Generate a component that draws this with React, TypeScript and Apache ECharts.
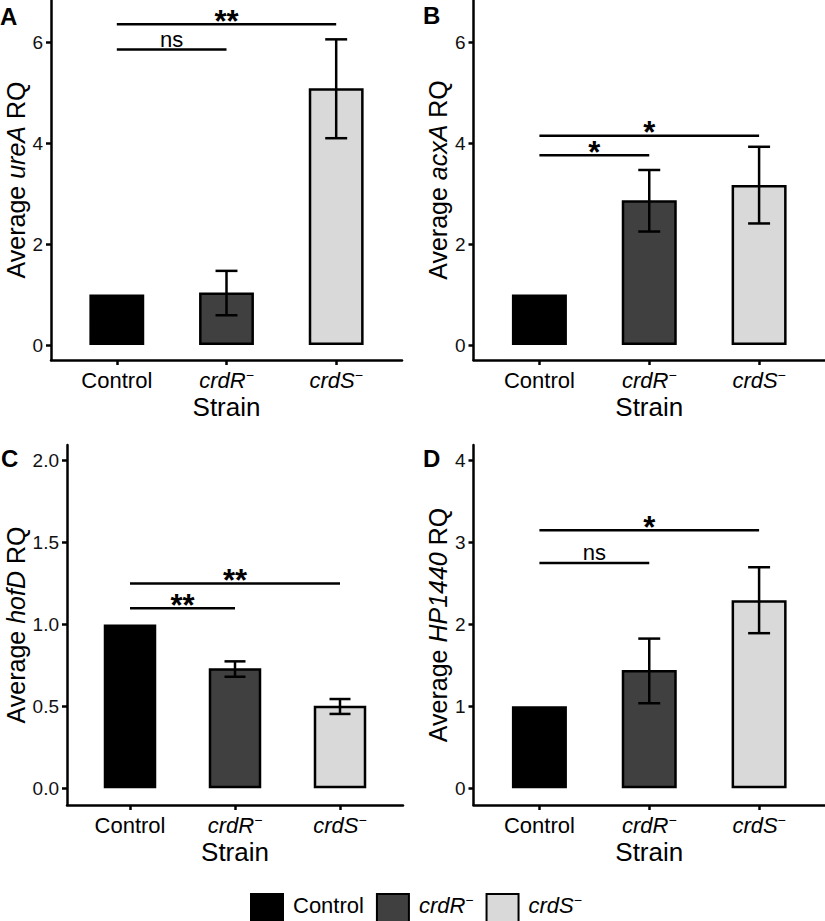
import React, { useEffect, useRef } from "react";
import * as echarts from "echarts";

// ---------- data ----------
const strains = ["Control", "crdR", "crdS"];
const strainPositions = [1, 2, 3];

const ureAMean = [1.0, 1.04, 5.09];
const ureALow = [null, 0.59, 4.1];
const ureAHigh = [null, 1.47, 6.06];
const ureASig = [[1, 2, 5.86], [1, 3, 6.36]];
const ureASigLabels = ["ns", "**"];
const ureATicks = [0, 2, 4, 6];

const acxAMean = [1.0, 2.87, 3.17];
const acxALow = [null, 2.25, 2.41];
const acxAHigh = [null, 3.47, 3.93];
const acxASig = [[1, 2, 3.76], [1, 3, 4.15]];
const acxASigLabels = ["*", "*"];
const acxATicks = [0, 2, 4, 6];

const hofDMean = [1.0, 0.733, 0.504];
const hofDLow = [null, 0.681, 0.454];
const hofDHigh = [null, 0.775, 0.545];
const hofDSig = [[1, 2, 1.1], [1, 3, 1.25]];
const hofDSigLabels = ["**", "**"];
const hofDTicks = [0, 0.5, 1.0, 1.5, 2.0];

const hp1440Mean = [1.0, 1.444, 2.296];
const hp1440Low = [null, 1.038, 1.893];
const hp1440High = [null, 1.827, 2.698];
const hp1440Sig = [[1, 2, 2.75], [1, 3, 3.15]];
const hp1440SigLabels = ["ns", "*"];
const hp1440Ticks = [0, 1, 2, 3, 4];

// ---------- style / layout ----------
const FONT = "'Liberation Sans', Arial, Helvetica, sans-serif";
const fills = ["#000000", "#404040", "#d9d9d9"];
const LW = 2.5;

const panels = [
  { letter: "A", gene: "ureA", mean: ureAMean, low: ureALow, high: ureAHigh, sig: ureASig, sigLabels: ureASigLabels, ticks: ureATicks, digits: 0,
    yMin: -0.297, yMax: 6.84, left: 51, top: 0, width: 351, height: 360, nameGap: 23, lx: 0, ly: 4 },
  { letter: "B", gene: "acxA", mean: acxAMean, low: acxALow, high: acxAHigh, sig: acxASig, sigLabels: acxASigLabels, ticks: acxATicks, digits: 0,
    yMin: -0.297, yMax: 6.84, left: 473.5, top: 0, width: 352, height: 360, nameGap: 23, lx: 423, ly: 3 },
  { letter: "C", gene: "hofD", mean: hofDMean, low: hofDLow, high: hofDHigh, sig: hofDSig, sigLabels: hofDSigLabels, ticks: hofDTicks, digits: 1,
    yMin: -0.102, yMax: 2.096, left: 67, top: 445, width: 336, height: 360, nameGap: 39, lx: 1, ly: 446 },
  { letter: "D", gene: "HP1440", mean: hp1440Mean, low: hp1440Low, high: hp1440High, sig: hp1440Sig, sigLabels: hp1440SigLabels, ticks: hp1440Ticks, digits: 0,
    yMin: -0.204, yMax: 4.19, left: 473.5, top: 445, width: 352, height: 360, nameGap: 23, lx: 423, ly: 446 },
];

const strainRich = (name: string, key: string) =>
  name === "Control" ? `{${key}n|${name}}` : `{${key}i|${name}}{${key}s|−}`;

const tickRich = {
  tn: { fontSize: 22, fontFamily: FONT, color: "#000", lineHeight: 24 },
  ti: { fontSize: 22, fontFamily: FONT, color: "#000", fontStyle: "italic", lineHeight: 24 },
  ts: { fontSize: 14, fontFamily: FONT, color: "#000", verticalAlign: "top", lineHeight: 14 },
};
const legendRich = {
  ln: { fontSize: 22, fontFamily: FONT, color: "#000", lineHeight: 24 },
  li: { fontSize: 22, fontFamily: FONT, color: "#000", fontStyle: "italic", lineHeight: 24 },
  ls: { fontSize: 14, fontFamily: FONT, color: "#000", verticalAlign: "top", lineHeight: 14 },
};

function buildOption() {
  const grid: any[] = [];
  const xAxis: any[] = [];
  const yAxis: any[] = [];
  const series: any[] = [];
  const graphic: any[] = [];

  panels.forEach((p, i) => {
    grid.push({ left: p.left, top: p.top, width: p.width, height: p.height });
    const unit = p.width / 3.2;
    xAxis.push({
      type: "value", gridIndex: i, min: 0.4, max: 3.6,
      axisLine: { show: true, onZero: false, lineStyle: { color: "#000", width: LW } },
      axisTick: { show: true, length: 5, lineStyle: { color: "#000", width: LW }, customValues: strainPositions },
      axisLabel: {
        customValues: strainPositions, margin: 8,
        formatter: (v: number) => strainRich(strains[Math.round(v) - 1], "t"),
        rich: tickRich,
      },
      splitLine: { show: false },
      name: "Strain", nameLocation: "middle", nameGap: 34,
      nameTextStyle: { fontSize: 26, fontFamily: FONT, color: "#000" },
    });
    yAxis.push({
      type: "value", gridIndex: i, min: p.yMin, max: p.yMax,
      axisLine: { show: true, onZero: false, lineStyle: { color: "#000", width: LW } },
      axisTick: { show: true, length: 5, lineStyle: { color: "#000", width: LW }, customValues: p.ticks },
      axisLabel: {
        customValues: p.ticks, margin: 8, fontSize: 19, fontFamily: FONT, color: "#111",
        formatter: (v: number) => v.toFixed(p.digits),
      },
      splitLine: { show: false },
      name: `{n|Average }{i|${p.gene}}{n| RQ}`,
      nameLocation: "middle", nameRotate: 90, nameGap: p.nameGap,
      nameTextStyle: {
        fontSize: 25, fontFamily: FONT, color: "#000",
        rich: {
          n: { fontSize: 25, fontFamily: FONT, color: "#000" },
          i: { fontSize: 25, fontFamily: FONT, color: "#000", fontStyle: "italic" },
        },
      },
    });

    strains.forEach((s, j) => {
      series.push({
        type: "bar", name: s, xAxisIndex: i, yAxisIndex: i,
        data: [[strainPositions[j], p.mean[j]]],
        barWidth: unit * 0.5, barGap: "-100%",
        itemStyle: { color: fills[j], borderColor: "#000", borderWidth: LW },
        z: 2,
      });
    });

    const errData: number[][] = [];
    strains.forEach((_, j) => {
      if (p.low[j] != null && p.high[j] != null) errData.push([strainPositions[j], p.low[j] as number, p.high[j] as number]);
    });
    series.push({
      type: "custom", xAxisIndex: i, yAxisIndex: i, data: errData, z: 5, silent: true,
      renderItem: (params: any, api: any) => {
        const x = api.value(0), lo = api.value(1), hi = api.value(2);
        const a = api.coord([x, lo]);
        const b = api.coord([x, hi]);
        const hw = api.size([0.1, 0])[0];
        const st = { stroke: "#000", lineWidth: LW };
        return {
          type: "group",
          children: [
            { type: "line", shape: { x1: a[0], y1: a[1], x2: b[0], y2: b[1] }, style: st },
            { type: "line", shape: { x1: a[0] - hw, y1: a[1], x2: a[0] + hw, y2: a[1] }, style: st },
            { type: "line", shape: { x1: b[0] - hw, y1: b[1], x2: b[0] + hw, y2: b[1] }, style: st },
          ],
        };
      },
    });

    series.push({
      type: "custom", xAxisIndex: i, yAxisIndex: i, data: p.sig, z: 5, silent: true,
      renderItem: (params: any, api: any) => {
        const a = api.coord([api.value(0), api.value(2)]);
        const b = api.coord([api.value(1), api.value(2)]);
        const label = p.sigLabels[params.dataIndex];
        const isStar = label.indexOf("*") >= 0;
        return {
          type: "group",
          children: [
            { type: "line", shape: { x1: a[0], y1: a[1], x2: b[0], y2: b[1] }, style: { stroke: "#000", lineWidth: LW } },
            {
              type: "text", x: (a[0] + b[0]) / 2, y: a[1] - (isStar ? 3 : 10),
              style: {
                text: label, align: "center", verticalAlign: "middle",
                fontSize: isStar ? 31 : 22, fontWeight: isStar ? "bold" : "normal", fontFamily: FONT, fill: "#000",
              },
            },
          ],
        };
      },
    });

    graphic.push({
      type: "text", left: p.lx, top: p.ly,
      style: { text: p.letter, fontSize: 24, fontWeight: "bold", fontFamily: FONT, fill: "#000" },
    });
  });

  return {
    animation: false,
    backgroundColor: "#fff",
    textStyle: { fontFamily: FONT },
    grid, xAxis, yAxis, series, graphic,
    legend: {
      data: strains, left: 245, top: 888, itemWidth: 32, itemHeight: 32, itemGap: 12,
      icon: "rect", selectedMode: false,
      formatter: (name: string) => strainRich(name, "l"),
      textStyle: { fontSize: 22, fontFamily: FONT, color: "#000", rich: legendRich, padding: [0, 0, 10, 5] },
    },
  };
}

export default function App() {
  const ref = useRef<HTMLDivElement>(null);
  useEffect(() => {
    if (!ref.current) return;
    const chart = echarts.init(ref.current, undefined, { renderer: "svg" });
    chart.setOption(buildOption() as any);
    return () => chart.dispose();
  }, []);
  return <div ref={ref} style={{ position: "absolute", left: 0, top: 0, width: 825, height: 921, background: "#fff" }} />;
}
